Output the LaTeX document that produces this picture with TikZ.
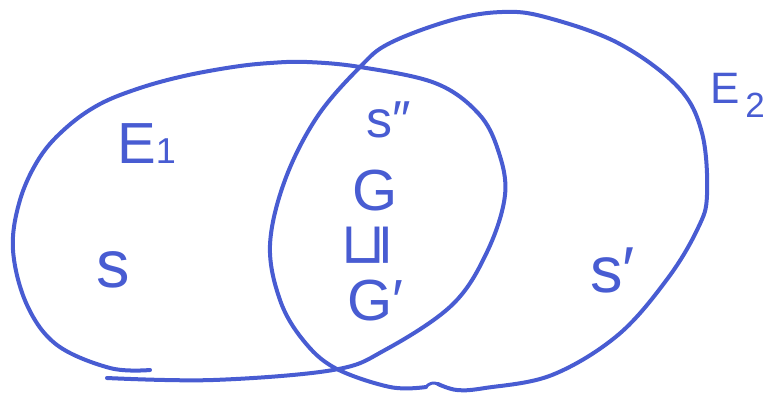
\documentclass[tikz,border=0pt]{standalone}
\usepackage{fontspec}
\setmainfont{Liberation Sans}
\newfontfamily\symfont{DejaVu Sans}
\definecolor{penblue}{RGB}{72,92,210}
\tikzset{
  pen/.style={draw=penblue, line width=4pt, line cap=round, line join=round},
  lbl/.style={text=penblue, inner sep=0pt, font=\fontsize{#1}{#1}\selectfont},
}
\begin{document}
\begin{tikzpicture}[x=1pt, y=-1pt]
    \useasboundingbox (0,0) rectangle (775,392);
    % E1, the left set
    \draw[pen] plot[smooth, tension=0.6] coordinates {
        (150,370) (110,368) (57,345) (27,305) (13,250) (20,200) (40,157)
        (67,127) (100,104) (140,88) (184,76) (233,67) (270,63) (307,62)
        (360,67) (435,83) (478,113) (498,150) (505,195) (487,252)
        (452,305) (385,350) (333,370) (213,380) (107,378)};
    % E2, the right set
    \draw[pen] plot[smooth, tension=0.6] coordinates {
        (438,384) (457,390) (485,388) (552,375) (618,335) (668,278)
        (698,228) (707,195) (702,133) (678,87) (618,43) (545,17) (502,12)
        (452,20) (390,43) (360,67) (317,117) (285,180) (270,245) (280,300)
        (303,340) (335,368) (390,387) (426,387)};
    \draw[pen, line width=3pt] (426,387) .. controls (429,383) and (434,382) .. (438,384);
    % labels
    \node[lbl=58, anchor=base west] (e1) at (117,163) {E{\fontsize{36}{36}\selectfont 1}};
    \node[lbl=44, anchor=base west] (e2) at (710,103) {E\raisebox{-14pt}{\fontsize{35}{35}\selectfont\,2}};
    \node[lbl=52, anchor=base west] (s2) at (366,137) {s″};
    \node[lbl=58, anchor=base] (g) at (375,210) {G};
    \node[lbl=58] (rel) at (368,245) {\rotatebox{90}{\symfont ⊑}};
    \node[lbl=58, anchor=base west] (g1) at (347,320) {G′};
    \node[lbl=67, anchor=base] (s0) at (113,287) {s};
    \node[lbl=65, anchor=base west] (s1) at (590,292) {s′};
\end{tikzpicture}
\end{document}
